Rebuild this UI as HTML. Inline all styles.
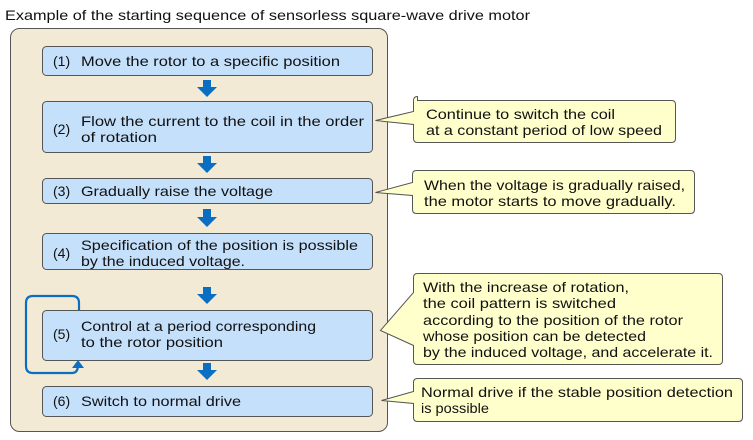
<!DOCTYPE html>
<html><head><meta charset="utf-8"><style>
html,body{margin:0;padding:0;background:#fff;}
svg{display:block;}
text{font-family:"Liberation Sans","Noto Sans CJK JP",sans-serif;font-size:14px;fill:#111;}
</style></head><body>
<svg width="753" height="440" viewBox="0 0 753 440" xmlns="http://www.w3.org/2000/svg">
<text x="5" y="20" textLength="525" lengthAdjust="spacingAndGlyphs">Example of the starting sequence of sensorless square-wave drive motor</text>
<rect x="10.5" y="28.5" width="377" height="403" rx="9" fill="#f3ead5" stroke="#555" stroke-width="1"/>
<g fill="#c5e0fb" stroke="#555" stroke-width="1">
<rect x="42.5" y="46.5" width="330" height="29" rx="4"/>
<rect x="42.5" y="101.5" width="330" height="51" rx="4"/>
<rect x="42.5" y="178.5" width="330" height="25" rx="4"/>
<rect x="42.5" y="233.5" width="330" height="36" rx="4"/>
<rect x="42.5" y="310.5" width="330" height="50" rx="4"/>
<rect x="42.5" y="386.5" width="330" height="30" rx="4"/>
</g>
<g fill="#0a6fc2">
<path d="M203 80h8v7h6l-10 10l-10-10h6z"/>
<path d="M203 156h8v7h6l-10 10l-10-10h6z"/>
<path d="M203 209h8v8h6l-10 10l-10-10h6z"/>
<path d="M203 287h8v7h6l-10 10l-10-10h6z"/>
<path d="M203 363h8v7h6l-10 10l-10-10h6z"/>
</g>
<path d="M79 310V303q0-7-7-7H33q-7 0-7 7V366q0 7 7 7H72q6 0 6-8" fill="none" stroke="#0a6fc2" stroke-width="2.2"/>
<path d="M72 368l6-8l6 8z" fill="#0a6fc2"/>
<text x="53" y="66">(1)</text><text x="81" y="66" textLength="259" lengthAdjust="spacingAndGlyphs">Move the rotor to a specific position</text>
<text x="53" y="134">(2)</text><text x="81" y="126" textLength="283" lengthAdjust="spacingAndGlyphs">Flow the current to the coil in the order</text><text x="81" y="142" textLength="76" lengthAdjust="spacingAndGlyphs">of rotation</text>
<text x="53" y="196">(3)</text><text x="81" y="196" textLength="192" lengthAdjust="spacingAndGlyphs">Gradually raise the voltage</text>
<text x="53" y="258">(4)</text><text x="81" y="250" textLength="277" lengthAdjust="spacingAndGlyphs">Specification of the position is possible</text><text x="81" y="266" textLength="164" lengthAdjust="spacingAndGlyphs">by the induced voltage.</text>
<text x="53" y="339">(5)</text><text x="81" y="331" textLength="235" lengthAdjust="spacingAndGlyphs">Control at a period corresponding</text><text x="81" y="347" textLength="142" lengthAdjust="spacingAndGlyphs">to the rotor position</text>
<text x="53" y="406">(6)</text><text x="81" y="406" textLength="160" lengthAdjust="spacingAndGlyphs">Switch to normal drive</text>
<g fill="#ffffcc" stroke="#555" stroke-width="1">
<path d="M417.5 100.5h254q4 0 4 4v34q0 4-4 4h-254q-4 0-4-4v-14l-38-4l38-9v-11q0-4 4-4z"/>
<path d="M416.5 170.5h274q4 0 4 4v35q0 4-4 4h-274q-4 0-4-4v-14l-37-3l37-10v-8q0-4 4-4z"/>
<path d="M417.5 273.5h301q4 0 4 4v83q0 4-4 4h-301q-4 0-4-4v-15l-33-15l33-38v-15q0-4 4-4z"/>
<path d="M417.5 378.5h321q4 0 4 4v35q0 4-4 4h-321q-4 0-4-4v-14l-32-3l32-9v-9q0-4 4-4z"/>
</g>
<text x="426" y="119" textLength="189" lengthAdjust="spacingAndGlyphs">Continue to switch the coil</text>
<text x="426" y="135" textLength="236" lengthAdjust="spacingAndGlyphs">at a constant period of low speed</text>
<text x="424" y="190" textLength="261" lengthAdjust="spacingAndGlyphs">When the voltage is gradually raised,</text>
<text x="424" y="206" textLength="252" lengthAdjust="spacingAndGlyphs">the motor starts to move gradually.</text>
<text x="423" y="292" textLength="206" lengthAdjust="spacingAndGlyphs">With the increase of rotation,</text>
<text x="423" y="308" textLength="193" lengthAdjust="spacingAndGlyphs">the coil pattern is switched</text>
<text x="423" y="325" textLength="260" lengthAdjust="spacingAndGlyphs">according to the position of the rotor</text>
<text x="423" y="341" textLength="223" lengthAdjust="spacingAndGlyphs">whose position can be detected</text>
<text x="423" y="357" textLength="290" lengthAdjust="spacingAndGlyphs">by the induced voltage, and accelerate it.</text>
<text x="421" y="397" textLength="312" lengthAdjust="spacingAndGlyphs">Normal drive if the stable position detection</text>
<text x="421" y="413" textLength="68" lengthAdjust="spacingAndGlyphs">is possible</text>
</svg>
</body></html>
